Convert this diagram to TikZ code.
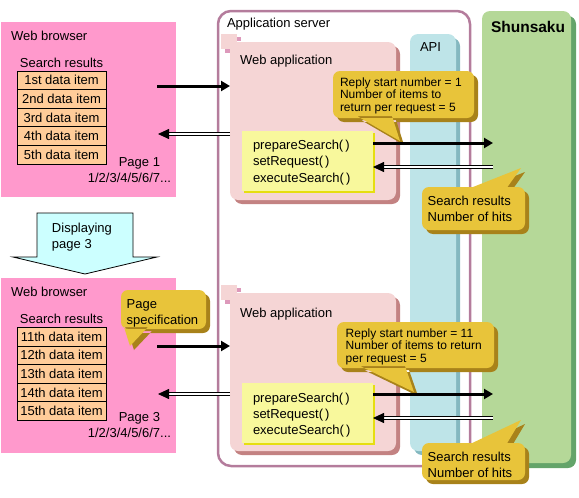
\documentclass[tikz,border=0pt]{standalone}
\usepackage{fontspec}
\setmainfont{Liberation Sans}
\usetikzlibrary{positioning,arrows.meta,shadows}

\definecolor{browserpink}{HTML}{FF99CC}
\definecolor{itemorange}{HTML}{FFCC99}
\definecolor{pagecyan}{HTML}{CCFFFF}
\definecolor{webpink}{HTML}{F5D5D5}
\definecolor{webdark}{HTML}{C38282}
\definecolor{tabmark}{HTML}{DD99BB}
\definecolor{codeyellow}{HTML}{F8F89C}
\definecolor{codedark}{HTML}{E6DE10}
\definecolor{balloonfill}{HTML}{E8C43A}
\definecolor{balloondark}{HTML}{A8821A}
\definecolor{apiblue}{HTML}{BEE4E8}
\definecolor{apidark}{HTML}{84B8C0}
\definecolor{shunsakugreen}{HTML}{B5D898}
\definecolor{shunsakudark}{HTML}{64A46A}
\definecolor{serverpurple}{HTML}{B47C9C}

\newcommand{\figfont}{\fontsize{13}{14}\selectfont}
\newcommand{\codefont}{\fontsize{13}{16.3}\selectfont}
\newcommand{\tipfont}{\fontsize{12}{12.6}\selectfont}
\newcommand{\hitfont}{\fontsize{13}{15.7}\selectfont}

\begin{document}
\begin{tikzpicture}[x=1pt,y=-1pt,
  every node/.style={font=\figfont,inner sep=0pt,outer sep=0pt},
  browserbox/.style={fill=browserpink,anchor=north west,minimum width=175pt,minimum height=175pt},
  itembox/.style={draw=black,line width=0.8pt,fill=itemorange,minimum width=89pt,minimum height=18.6pt},
  webbox/.style={fill=webpink,rounded corners=8pt,anchor=north west,minimum width=166pt,minimum height=158pt,
    drop shadow={shadow xshift=4pt,shadow yshift=-4pt,opacity=1,fill=webdark}},
  codebox/.style={fill=codeyellow,anchor=north west,minimum width=131pt,minimum height=60pt,
    drop shadow={shadow xshift=2pt,shadow yshift=-2pt,opacity=1,fill=codedark}},
  serverbox/.style={draw=serverpurple,line width=2.5pt,rounded corners=13pt,anchor=north west},
  columnbox/.style={rounded corners=8pt,anchor=north west},
  balloon/.style={fill=balloonfill},
  bshade/.style={fill=balloondark,shift={(4,4)}},
  textat/.style={anchor=base west},
  blockat/.style={anchor=north west,align=left},
  request/.style={line width=3pt,-{Triangle[length=9pt,width=10pt]}},
  reply/.style={double,double distance=1.8pt,line width=0.8pt,-{Triangle[length=11pt,width=10pt]}},
  pagearrow/.style={draw=black,line width=0.8pt,fill=pagecyan}]
\useasboundingbox (0,0) rectangle (579,498);

% browsers
\node[browserbox] (browser1) at (1,22) {};
\node[textat] (browser1title) at (11,40) {Web browser};
\node[anchor=base] (results1) at (61.5,67.5) {Search results};
\node[itembox,anchor=north west] (item1) at (17,71) {1st data item};
\node[itembox,below=0pt of item1] (item2) {2nd data item};
\node[itembox,below=0pt of item2] (item3) {3rd data item};
\node[itembox,below=0pt of item3] (item4) {4th data item};
\node[itembox,below=0pt of item4] (item5) {5th data item};
\node[anchor=base east] (page1) at (160,166) {Page 1};
\node[anchor=base east] (pages1) at (171,182) {1/2/3/4/5/6/7...};

\draw[pagearrow] (37,213) -- (133,213) -- (133,257) -- (157,257) -- (85,274) -- (13,257) -- (37,257) -- cycle;
\node[blockat,font=\codefont] (display) at (52,223) {Displaying\\page 3};

\node[browserbox] (browser2) at (1,278) {};
\node[textat] (browser2title) at (11,296) {Web browser};
\node[anchor=base] (results2) at (61.5,323) {Search results};
\node[itembox,anchor=north west] (item11) at (17,327.3) {11th data item};
\node[itembox,below=0pt of item11] (item12) {12th data item};
\node[itembox,below=0pt of item12] (item13) {13th data item};
\node[itembox,below=0pt of item13] (item14) {14th data item};
\node[itembox,below=0pt of item14] (item15) {15th data item};
\node[anchor=base east] (page3) at (160,421) {Page 3};
\node[anchor=base east] (pages3) at (171,437) {1/2/3/4/5/6/7...};

% server side
\node[serverbox,minimum width=252pt,minimum height=455pt] (server) at (218,11) {};
\node[textat] (servertitle) at (227,27.7) {Application server};

\node[columnbox,fill=apiblue,minimum width=46pt,minimum height=417pt,
  drop shadow={shadow xshift=4pt,shadow yshift=-4pt,opacity=1,fill=apidark}] (api) at (410,34) {};
\node[textat] (apititle) at (420,51.7) {API};

\node[columnbox,fill=shunsakugreen,minimum width=89pt,minimum height=452pt,
  drop shadow={shadow xshift=5pt,shadow yshift=-5pt,opacity=1,fill=shunsakudark}] (shunsaku) at (482,11) {};
\node[textat,font=\fontsize{15.5}{18}\selectfont\bfseries] (shunsakutitle) at (491,32.7) {Shunsaku};

\node[webbox] (webapp1) at (230,42) {};
\fill[webpink] (221,34) rectangle (237,49);
\fill[tabmark] (237,37) rectangle (241,41);
\fill[tabmark] (225,49) rectangle (230,53);
\node[textat] (webapp1title) at (240,64) {Web application};
\node[codebox] (code1) at (242,131) {};
\node[blockat,font=\codefont] (calls1) at (253,140) {prepareSearch(\,)\\setRequest(\,)\\executeSearch(\,)};

\node[webbox] (webapp2) at (230,293) {};
\fill[webpink] (221,285) rectangle (237,300);
\fill[tabmark] (237,288) rectangle (241,292);
\fill[tabmark] (225,300) rectangle (230,304);
\node[textat] (webapp2title) at (240,317) {Web application};
\node[codebox] (code2) at (242,383) {};
\node[blockat,font=\codefont] (calls2) at (253,392.7) {prepareSearch(\,)\\setRequest(\,)\\executeSearch(\,)};

% balloons
\fill[bshade,rounded corners=7pt] (333,71) rectangle (474,118) [sharp corners] (357,116) -- (392,116) -- (400,141) -- cycle;
\fill[balloon,rounded corners=7pt] (333,71) rectangle (474,118) [sharp corners] (357,116) -- (392,116) -- (400,141) -- cycle;
\node[blockat,font=\tipfont] (request1) at (340,77.7) {Reply start number = 1\\Number of items to\\return per request = 5};

\fill[bshade,rounded corners=7pt] (422,187) rectangle (525,230) [sharp corners] (468,189) -- (506,189) -- (521,168) -- cycle;
\fill[balloon,rounded corners=7pt] (422,187) rectangle (525,230) [sharp corners] (468,189) -- (506,189) -- (521,168) -- cycle;
\node[blockat,font=\hitfont] (hits1) at (427.7,196) {Search results\\Number of hits};

\fill[bshade,rounded corners=7pt] (121,290) rectangle (206,329) [sharp corners] (124,327) -- (148,327) -- (130,346) -- cycle;
\fill[balloon,rounded corners=7pt] (121,290) rectangle (206,329) [sharp corners] (124,327) -- (148,327) -- (130,346) -- cycle;
\node[blockat,font=\fontsize{13}{16.7}\selectfont] (pagespec) at (126.7,299.3) {Page\\specification};

\fill[bshade,rounded corners=7pt] (337,322) rectangle (494,368) [sharp corners] (360,366) -- (405,366) -- (414,392) -- cycle;
\fill[balloon,rounded corners=7pt] (337,322) rectangle (494,368) [sharp corners] (360,366) -- (405,366) -- (414,392) -- cycle;
\node[blockat,font=\tipfont] (request2) at (345.7,328.4) {Reply start number = 11\\Number of items to return\\per request = 5};

\fill[bshade,rounded corners=7pt] (422,443) rectangle (525,480) [sharp corners] (468,445) -- (506,445) -- (521,420) -- cycle;
\fill[balloon,rounded corners=7pt] (422,443) rectangle (525,480) [sharp corners] (468,445) -- (506,445) -- (521,420) -- cycle;
\node[blockat,font=\hitfont] (hits2) at (427.7,452) {Search results\\Number of hits};

% arrows
\coordinate (b1out) at (157,86);
\coordinate (b1in) at (158,134);
\coordinate (q1) at (493,143);
\coordinate (r1) at (493,167);
\draw[request] (b1out) -- (b1out -| webapp1.west);
\draw[reply] (b1in -| webapp1.west) -- (b1in);
\draw[request] (code1.east |- q1) -- (q1);
\draw[reply] (r1) -- (r1 -| code1.east);

\coordinate (b2out) at (157,346);
\coordinate (b2in) at (158,394);
\coordinate (q2) at (493,394);
\coordinate (r2) at (493,418);
\draw[request] (b2out) -- (b2out -| webapp2.west);
\draw[reply] (b2in -| webapp2.west) -- (b2in);
\draw[request] (code2.east |- q2) -- (q2);
\draw[reply] (r2) -- (r2 -| code2.east);
\end{tikzpicture}
\end{document}
